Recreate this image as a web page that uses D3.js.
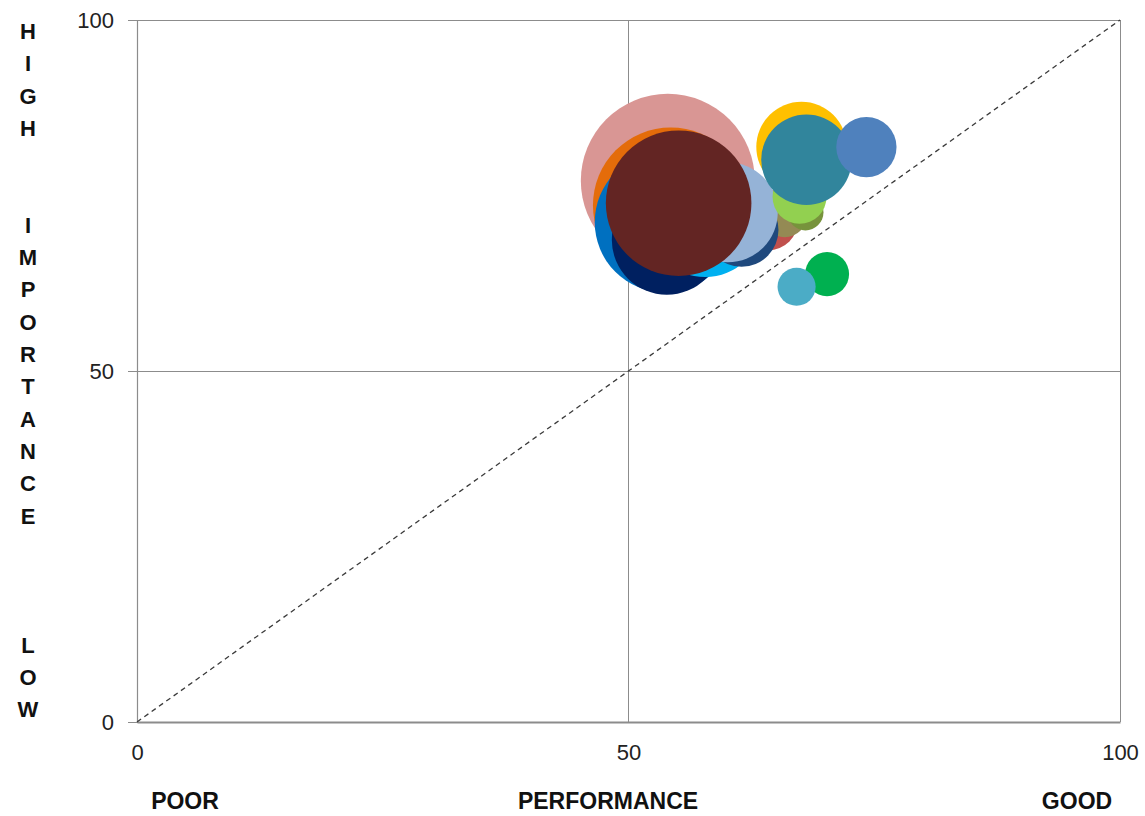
<!DOCTYPE html>
<html>
<head>
<meta charset="utf-8">
<script src="https://cdn.jsdelivr.net/npm/d3@7/dist/d3.min.js"></script>
<style>
  html, body { margin: 0; padding: 0; background: #fff; }
  svg { display: block; font-family: "Liberation Sans", Arial, sans-serif; }
</style>
</head>
<body>
<svg id="chart" width="1145" height="816"></svg>
<script>
// Importance / performance bubbles, drawn back to front
const names = ["A","B","C","D","E","F","J","G","H","I","K","L","M","N","O","P","Q"];
const performance = [54.0, 54.3, 53.7, 53.9, 57.8, 64.2, 65.9, 61.5, 60.1, 55.1, 68.0, 67.4, 67.6, 68.1, 74.2, 70.2, 67.1];
const importance  = [77.1, 73.6, 71.2, 68.7, 71.5, 71.5, 72.2, 70.1, 72.6, 73.9, 72.6, 74.8, 81.9, 80.1, 81.9, 63.8, 62.0];
const sizes       = [100,  80,   65,   40,   43,   12,   6.4,  18,   33,   70,   4.3,  9.6,  27,   27,   12,   6.4,  4.8];
const colors = ["#D99694","#E46C0A","#0070C0","#002060","#00B0F0","#C0504D","#948A54","#1F497D","#95B3D7",
                "#632523","#77933C","#92D050","#FFC000","#31859C","#4F81BD","#00B050","#4BACC6"];
const tickValues = [0, 50, 100];
const yLetters = ["H","I","G","H","","","I","M","P","O","R","T","A","N","C","E","","","","L","O","W"];
const xLabels = ["POOR", "PERFORMANCE", "GOOD"];

const svg = d3.select("#chart");
const plotLeft = 137, plotRight = 1120, plotTop = 20, plotBottom = 722;

const x = d3.scaleLinear().domain([0, 100]).range([plotLeft, plotRight]);
const y = d3.scaleLinear().domain([0, 100]).range([plotBottom, plotTop]);
const r = d3.scaleSqrt().domain([0, 100]).range([0, 87]);

const gridColor = "#8c8c8c";

// gridlines
svg.append("g").selectAll("line")
  .data(tickValues.filter(d => d > 0)).join("line")
  .attr("x1", d => x(d)).attr("x2", d => x(d))
  .attr("y1", y(0)).attr("y2", y(100))
  .attr("stroke", gridColor).attr("stroke-width", 1).attr("shape-rendering", "crispEdges");
svg.append("g").selectAll("line")
  .data(tickValues.filter(d => d > 0)).join("line")
  .attr("x1", x(0)).attr("x2", x(100))
  .attr("y1", d => y(d)).attr("y2", d => y(d))
  .attr("stroke", gridColor).attr("stroke-width", 1).attr("shape-rendering", "crispEdges");

// axes
const yAxis = d3.axisLeft(y).tickValues(tickValues).tickSize(9).tickPadding(14);
const gy = svg.append("g").attr("transform", `translate(${plotLeft},0)`).call(yAxis);
gy.select(".domain").attr("stroke", gridColor).attr("stroke-width", 1.2);
gy.selectAll(".tick line").attr("stroke", gridColor);
gy.selectAll(".tick text").attr("font-size", 22).attr("fill", "#222")
  .attr("font-family", "'Liberation Sans', Arial, sans-serif");

const xAxis = d3.axisBottom(x).tickValues(tickValues).tickSize(0).tickPadding(22);
const gx = svg.append("g").attr("transform", `translate(0,${plotBottom})`).call(xAxis);
gx.select(".domain").attr("stroke", gridColor).attr("stroke-width", 2);
gx.selectAll(".tick text").attr("font-size", 22).attr("fill", "#222")
  .attr("font-family", "'Liberation Sans', Arial, sans-serif");

// parity diagonal
svg.append("line")
  .attr("x1", x(0)).attr("y1", y(0)).attr("x2", x(100)).attr("y2", y(100))
  .attr("stroke", "#3a3a3a").attr("stroke-width", 1.3).attr("stroke-dasharray", "5,4");

// bubbles
svg.append("g").selectAll("circle")
  .data(names.map((n, i) => ({ n, px: performance[i], im: importance[i], s: sizes[i], c: colors[i] })))
  .join("circle")
  .attr("cx", d => x(d.px))
  .attr("cy", d => y(d.im))
  .attr("r", d => r(d.s))
  .attr("fill", d => d.c);

// vertical axis caption, one letter per row
svg.append("g").selectAll("text")
  .data(yLetters).join("text")
  .attr("x", 28)
  .attr("y", (d, i) => 39 + i * 32.3)
  .attr("text-anchor", "middle")
  .attr("font-size", 22).attr("font-weight", "bold").attr("fill", "#111")
  .text(d => d);

// horizontal axis captions
const xLabelPos = [185, 608, 1077];
svg.append("g").selectAll("text")
  .data(xLabels).join("text")
  .attr("x", (d, i) => xLabelPos[i])
  .attr("y", 809)
  .attr("text-anchor", "middle")
  .attr("font-size", 23).attr("font-weight", "bold").attr("fill", "#111")
  .text(d => d);
</script>
</body>
</html>
